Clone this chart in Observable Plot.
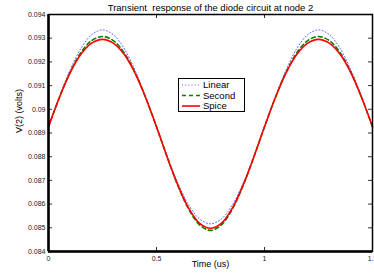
<!DOCTYPE html>
<html><head><meta charset="utf-8">
<script src="https://cdn.jsdelivr.net/npm/d3@7"></script>
<script src="https://cdn.jsdelivr.net/npm/@observablehq/plot@0.6"></script>
<style>
html,body{margin:0;padding:0;background:#fff;}
#wrap{position:relative;width:374px;height:273px;font-family:"Liberation Sans",Arial,sans-serif;}
#legend{position:absolute;left:178px;top:78px;width:67px;height:34px;border:1.5px solid #000;background:#fff;box-sizing:border-box;font-size:9.5px;}
#legend div{position:absolute;left:24px;}
#legend svg{position:absolute;left:2px;top:0;}
</style></head>
<body><div id="wrap"><div id="chart"></div>
<div id="legend"></div></div>
<script>
const time = [0,0.05,0.1,0.15,0.2,0.25,0.3,0.35,0.4,0.45,0.5,0.55,0.6,0.65,0.7,0.75,0.8,0.85,0.9,0.95,1,1.05,1.1,1.15,1.2,1.25,1.3,1.35,1.4,1.45,1.5];
const linear = [0.08926,0.09052,0.09166,0.09257,0.09315,0.09335,0.09315,0.09257,0.09166,0.09052,
0.08926,0.08800,0.08686,0.08595,0.08537,0.08517,0.08537,0.08595,0.08686,0.08800,
0.08926,0.09052,0.09166,0.09257,0.09315,0.09335,0.09315,0.09257,0.09166,0.09052,0.08926];
const second = [0.08926,0.09049,0.09156,0.09239,0.09290,0.09307,0.09290,0.09239,0.09156,0.09049,
0.08926,0.08797,0.08676,0.08577,0.08512,0.08489,0.08512,0.08577,0.08676,0.08797,
0.08926,0.09049,0.09156,0.09239,0.09290,0.09307,0.09290,0.09239,0.09156,0.09049,0.08926];
const spice = [0.08926,0.09049,0.09154,0.09232,0.09279,0.09295,0.09279,0.09232,0.09154,0.09049,
0.08926,0.08797,0.08678,0.08581,0.08519,0.08498,0.08519,0.08581,0.08678,0.08797,
0.08926,0.09049,0.09154,0.09232,0.09279,0.09295,0.09279,0.09232,0.09154,0.09049,0.08926];
const seriesNames = ["Linear","Second","Spice"];
const xTicks = [0,0.5,1,1.5];
const xTickLabels = ["0","0.5","1","1.5"];
const yTicks = [0.084,0.085,0.086,0.087,0.088,0.089,0.09,0.091,0.092,0.093,0.094];
const yTickLabels = ["0.084","0.085","0.086","0.087","0.088","0.089","0.09","0.091","0.092","0.093","0.094"];
const title = "Transient  response of the diode circuit at node 2";
const xLabel = "Time (us)";
const yLabel = "V(2) (volts)";

const styles = {
  Linear: {stroke:"#5a5aff", strokeWidth:1, strokeDasharray:"1,2.2"},
  Second: {stroke:"#008000", strokeWidth:1.6, strokeDasharray:"4,3"},
  Spice: {stroke:"#ff0000", strokeWidth:1.6}
};
const seriesData = {Linear: linear, Second: second, Spice: spice};
const rows = n => time.map((t,i)=>({t, v: seriesData[n][i]}));

const W = 374, H = 273, mL = 48, mR = 2, mT = 14, mB = 22;
const pw = W - mL - mR, ph = H - mT - mB;
const font = '"Liberation Sans",Arial,sans-serif';

const plot = Plot.plot({
  width: W, height: H,
  marginLeft: mL, marginRight: mR, marginTop: mT, marginBottom: mB,
  style: {fontFamily: font, fontSize: "7px", color: "#222", background: "#fff"},
  x: {domain: [0, 1.5], ticks: xTicks, tickFormat: (d,i)=>xTickLabels[xTicks.indexOf(d)], tickSize: 0, tickPadding: 5, label: null},
  y: {domain: [0.084, 0.094], ticks: yTicks, tickFormat: d=>yTickLabels[yTicks.findIndex(v=>Math.abs(v-d)<1e-9)], tickSize: 0, tickPadding: 3, label: null},
  marks: [
    Plot.line(rows("Linear"), {x:"t", y:"v", curve:"catmull-rom", ...styles.Linear}),
    Plot.line(rows("Second"), {x:"t", y:"v", curve:"catmull-rom", ...styles.Second}),
    Plot.line(rows("Spice"), {x:"t", y:"v", curve:"catmull-rom", ...styles.Spice}),
    Plot.tickY(yTicks, {y: d=>d, insetRight: pw-4, stroke:"#000", strokeWidth:0.8}),
    Plot.tickY(yTicks, {y: d=>d, insetLeft: pw-4, stroke:"#000", strokeWidth:0.8}),
    Plot.tickX(xTicks, {x: d=>d, insetTop: ph-4, stroke:"#000", strokeWidth:0.8}),
    Plot.tickX(xTicks, {x: d=>d, insetBottom: ph-4, stroke:"#000", strokeWidth:0.8}),
    Plot.frame({stroke:"#000", strokeWidth:1.5}),
    Plot.ruleX([0], {stroke:"#000", strokeWidth:2.5}),
    Plot.ruleY([0.084], {stroke:"#000", strokeWidth:2.5}),
    Plot.text([title], {frameAnchor:"top", dy:-10, fontSize:9.5, fill:"#000"}),
    Plot.text([xLabel], {frameAnchor:"bottom", dy:15, fontSize:9, fill:"#000"}),
    Plot.text([yLabel], {frameAnchor:"left", dx:-29, rotate:-90, fontSize:9, fill:"#000"})
  ]
});
plot.style.overflow = "visible";
document.getElementById("chart").appendChild(plot);

const lg = document.getElementById("legend");
seriesNames.forEach((n,i)=>{
  const y = 6 + i*10.5;
  const svg = d3.create("svg").attr("width",20).attr("height",34).style("top","0px");
  const s = styles[n];
  svg.append("line").attr("x1",1).attr("x2",19).attr("y1",y).attr("y2",y)
    .attr("stroke",s.stroke).attr("stroke-width",s.strokeWidth)
    .attr("stroke-dasharray",s.strokeDasharray||null);
  lg.appendChild(svg.node());
  const d = document.createElement("div");
  d.textContent = n;
  d.style.top = (y-6)+"px";
  d.style.lineHeight = "11px";
  lg.appendChild(d);
});
</script></body></html>
